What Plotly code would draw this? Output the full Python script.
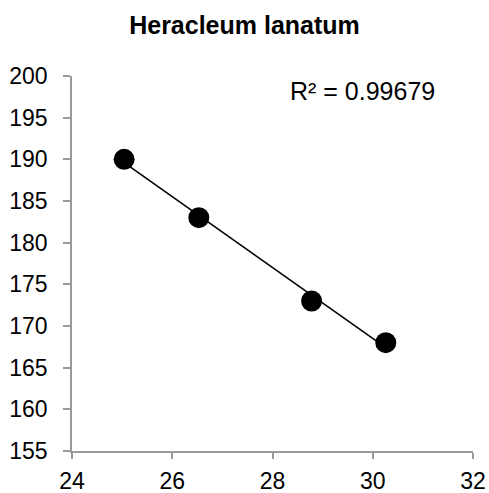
import numpy as np
import plotly.graph_objects as go

title_text = "Heracleum lanatum"
x_vals = [25.04, 26.53, 28.78, 30.26]
y_vals = [190, 183, 173, 168]
r2_label = "R² = 0.99679"
x_ticks = [24, 26, 28, 30, 32]
y_ticks = [155, 160, 165, 170, 175, 180, 185, 190, 195, 200]

slope, intercept = np.polyfit(x_vals, y_vals, 1)
tx = [min(x_vals), max(x_vals)]
ty = [slope * v + intercept for v in tx]

fig = go.Figure()
fig.add_trace(go.Scatter(x=tx, y=ty, mode="lines",
                         line=dict(color="black", width=1.6),
                         hoverinfo="skip", showlegend=False))
fig.add_trace(go.Scatter(x=x_vals, y=y_vals, mode="markers",
                         marker=dict(color="black", size=21,
                                     line=dict(width=0)),
                         showlegend=False))

fig.add_annotation(x=28.31, y=198.2, xref="x", yref="y", text=r2_label,
                   showarrow=False, xanchor="left", yanchor="middle",
                   font=dict(family="Liberation Sans, Arial", size=25, color="black"))

axis_common = dict(showgrid=False, zeroline=False, showline=True,
                   linecolor="#9a9a9a", linewidth=1.5, ticks="outside",
                   tickcolor="#9a9a9a", tickwidth=1.5, automargin=False,
                   tickfont=dict(family="Liberation Sans, Arial", size=23, color="black"))

fig.update_xaxes(range=[24, 32], tickvals=x_ticks, ticklen=6, ticklabelstandoff=3, **axis_common)
fig.update_yaxes(range=[155, 200], tickvals=y_ticks, ticklen=7, ticklabelstandoff=11, **axis_common)

fig.update_layout(
    width=489, height=493,
    margin=dict(l=72, r=16, t=76, b=42, autoexpand=False),
    paper_bgcolor="white", plot_bgcolor="white",
    title=dict(text="<b>" + title_text + "</b>", x=0.5, xanchor="center",
               y=1 - 25 / 493, yanchor="middle", yref="container",
               font=dict(family="Liberation Sans, Arial", size=25, color="black")),
)

fig.write_html("out.html")
